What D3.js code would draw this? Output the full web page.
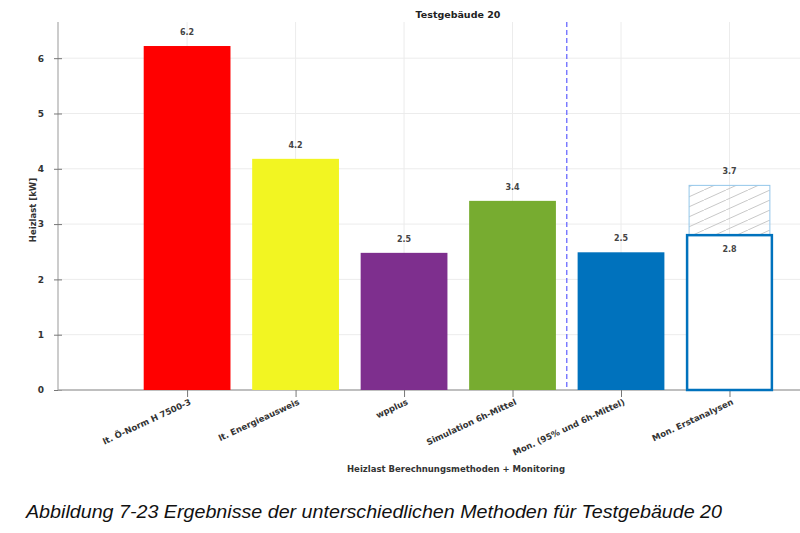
<!DOCTYPE html>
<html>
<head>
<meta charset="utf-8">
<script src="https://cdn.jsdelivr.net/npm/d3@7"></script>
<style>
  body { margin: 0; background: #fff; }
</style>
</head>
<body>
<svg id="canvas" width="800" height="533"></svg>
<script>
// categories + values
var categories = ["lt. Ö-Norm H 7500-3", "lt. Energieausweis", "wpplus",
                  "Simulation 6h-Mittel", "Mon. (95% und 6h-Mittel)", "Mon. Erstanalysen"];
var values = [6.22, 4.18, 2.48, 3.42, 2.49, 2.8];
var valueLabels = ["6.2", "4.2", "2.5", "3.4", "2.5", "2.8"];
var barColors = ["#ff0000", "#f2f522", "#7e2f8e", "#77ac30", "#0072bd", "none"];
// upper (hatched) part of the last bar
var rangeTop = 3.7;
var rangeTopLabel = "3.7";
var yTicks = [0, 1, 2, 3, 4, 5, 6];

var svg = d3.select("#canvas").style("font-family", "DejaVu Sans, sans-serif");

var x = d3.scaleLinear().domain([-1.19, 5.65]).range([58, 800]);
var y = d3.scaleLinear().domain([0, 6.6]).range([390, 25]);
var bw = (x(1) - x(0)) * 0.8;

// hatch pattern for the range bar
var defs = svg.append("defs");
var pat = defs.append("pattern")
    .attr("id", "hatch").attr("patternUnits", "userSpaceOnUse")
    .attr("width", 22).attr("height", 10);
pat.append("line").attr("x1", 0).attr("y1", 10).attr("x2", 22).attr("y2", 0)
    .attr("stroke", "#c8c8c8").attr("stroke-width", 1);

// grid
svg.append("g").selectAll("line").data(yTicks.slice(1)).enter().append("line")
    .attr("x1", 58).attr("x2", 800)
    .attr("y1", function(d) { return y(d); }).attr("y2", function(d) { return y(d); })
    .attr("stroke", "#ececec");
svg.append("g").selectAll("line").data(categories).enter().append("line")
    .attr("x1", function(d, i) { return x(i); }).attr("x2", function(d, i) { return x(i); })
    .attr("y1", 22).attr("y2", 390)
    .attr("stroke", "#ececec");

// y axis
var yAxis = svg.append("g").attr("transform", "translate(58,0)")
    .call(d3.axisLeft(y).tickValues(yTicks).tickSize(8).tickPadding(6).tickFormat(d3.format("d")));
yAxis.select(".domain").attr("d", "M0,22V390").attr("stroke", "#999");
yAxis.selectAll(".tick line").attr("x2", 0).attr("x1", -8).attr("transform", "translate(4,0)").attr("stroke", "#777");
yAxis.selectAll(".tick text").attr("font-size", 9).attr("font-weight", "bold").attr("fill", "#333")
    .style("font-family", "DejaVu Sans");

// x axis
var xAxis = svg.append("g").attr("transform", "translate(0,390)")
    .call(d3.axisBottom(x).tickValues(d3.range(categories.length)).tickSize(7)
      .tickFormat(function(i) { return categories[i]; }));
xAxis.select(".domain").attr("d", "M58,0H800").attr("stroke", "#aaa").attr("stroke-width", 1.5);
xAxis.selectAll(".tick line").attr("stroke", "#777");
xAxis.selectAll(".tick text")
    .attr("font-size", 8.5).attr("font-weight", "bold").attr("fill", "#333")
    .style("font-family", "DejaVu Sans")
    .attr("text-anchor", "end").attr("dy", 0).attr("y", 0)
    .attr("transform", "translate(4,14) rotate(-25)");

// bars
svg.append("g").selectAll("rect").data(values.slice(0, 5)).enter().append("rect")
    .attr("x", function(d, i) { return x(i) - bw / 2; })
    .attr("y", function(d) { return y(d); })
    .attr("width", bw)
    .attr("height", function(d) { return y(0) - y(d); })
    .attr("fill", function(d, i) { return barColors[i]; });

// last bar: hatched range + outlined bar
var li = 5;
svg.append("rect")
    .attr("x", x(li) - bw / 2 + 3).attr("y", y(rangeTop))
    .attr("width", bw - 6).attr("height", y(values[li]) - y(rangeTop))
    .attr("fill", "url(#hatch)").attr("stroke", "#93c6ea").attr("stroke-width", 1);
svg.append("rect")
    .attr("x", x(li) - bw / 2 + 1).attr("y", y(values[li]))
    .attr("width", bw - 2).attr("height", y(0) - y(values[li]))
    .attr("fill", "#fff").attr("stroke", "#0072bd").attr("stroke-width", 2.5);

// value labels
svg.append("g").selectAll("text").data(values).enter().append("text")
    .attr("x", function(d, i) { return x(i); })
    .attr("y", function(d, i) { return i === li ? y(d) + 17 : y(d) - 11; })
    .attr("text-anchor", "middle")
    .attr("font-size", 8).attr("font-weight", "bold").attr("fill", "#444")
    .text(function(d, i) { return valueLabels[i]; });
svg.append("text").attr("x", x(li)).attr("y", y(rangeTop) - 11)
    .attr("text-anchor", "middle")
    .attr("font-size", 8).attr("font-weight", "bold").attr("fill", "#444")
    .text(rangeTopLabel);

// separator line
svg.append("line")
    .attr("x1", x(3.5)).attr("x2", x(3.5)).attr("y1", 22).attr("y2", 390)
    .attr("stroke", "#6a6aff").attr("stroke-width", 1.3).attr("stroke-dasharray", "5,3");

// titles
svg.append("text").attr("x", 458).attr("y", 18).attr("text-anchor", "middle")
    .attr("font-size", 9.5).attr("font-weight", "bold").attr("fill", "#222")
    .text("Testgebäude 20");
svg.append("text").attr("transform", "translate(36,210) rotate(-90)")
    .attr("text-anchor", "middle")
    .attr("font-size", 8.5).attr("font-weight", "bold").attr("fill", "#333")
    .text("Heizlast [kW]");
svg.append("text").attr("x", 456).attr("y", 472).attr("text-anchor", "middle")
    .attr("font-size", 8.5).attr("font-weight", "bold").attr("fill", "#333")
    .text("Heizlast Berechnungsmethoden + Monitoring");

// caption
svg.append("text").attr("x", 26).attr("y", 518)
    .style("font-family", "'Liberation Sans', Arial, sans-serif")
    .attr("font-style", "italic").attr("font-size", 18.5).attr("fill", "#111")
    .attr("textLength", 696).attr("lengthAdjust", "spacingAndGlyphs")
    .text("Abbildung 7-23 Ergebnisse der unterschiedlichen Methoden für Testgebäude 20");
</script>
</body>
</html>
